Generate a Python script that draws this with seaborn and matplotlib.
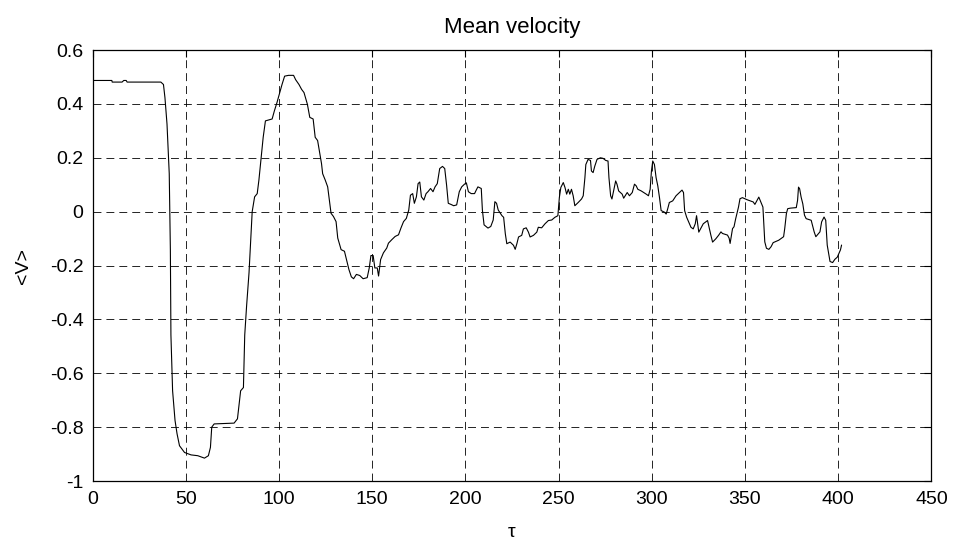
import matplotlib
matplotlib.use("Agg")
import matplotlib.pyplot as plt
import seaborn as sns
import pandas as pd
from matplotlib.ticker import FormatStrFormatter

# Data
tau = [0, 10.3, 10.5, 15.8, 16.7, 18.0, 18.5, 36.6, 38.0, 38.8, 39.9, 41.1, 41.7, 42.0, 42.9,
       44.2, 45.3, 46.6, 49.3, 52.8, 56.4, 60.0, 62.1, 63.2, 63.9, 65.2, 75.9, 77.7, 78.5,
       79.4, 80.9, 81.6, 82.6, 83.9, 84.8, 85.6, 86.9, 88.3, 89.2, 90.4, 91.5, 92.7, 96.3,
       97.5, 98.9, 100.4, 101.6, 103.0, 105.1, 107.8, 108.9, 110.7, 112.1, 113.4, 115.2,
       116.5, 118.3, 119.4, 120.7, 121.9, 122.8, 123.4, 124.8, 126.1, 127.0, 127.9, 129.2,
       130.6, 131.5, 133.3, 135.1, 136.4, 137.5, 138.8, 140.0, 141.5, 143.3, 145.1, 147.3,
       148.4, 149.3, 150.5, 151.4, 152.7, 153.4, 154.5, 156.0, 157.8, 158.7, 160.5, 162.3,
       164.1, 165.4, 166.8, 168.3, 169.6, 170.5, 171.7, 172.6, 173.7, 174.6, 175.5, 176.4,
       177.7, 178.9, 179.9, 181.3, 182.6, 183.7, 184.9, 186.2, 187.7, 188.9, 189.9, 190.8,
       192.2, 193.7, 195.3, 196.7, 198.0, 199.5, 200.5, 201.6, 203.1, 204.9, 205.8, 206.7,
       208.5, 209.1, 210.0, 212.1, 213.6, 214.9, 215.8, 216.7, 217.6, 219.6, 220.5, 221.4,
       222.2, 224.0, 225.8, 226.7, 227.6, 228.5, 230.2, 231.1, 232.6, 233.8, 234.7, 236.5,
       238.3, 239.1, 240.9, 242.7, 244.5, 246.3, 248.0, 249.6, 250.4, 251.2, 252.5, 253.4,
       254.3, 255.2, 256.0, 256.9, 257.8, 258.7, 260.5, 262.3, 263.2, 264.1, 264.6, 265.8,
       267.1, 267.6, 268.5, 269.4, 270.6, 272.4, 273.8, 275.3, 276.5, 277.0, 277.9, 278.6,
       279.5, 280.6, 281.3, 282.2, 284.1, 284.9, 286.8, 288.0, 289.5, 290.7, 291.6, 292.5,
       294.3, 297.0, 298.2, 299.1, 299.8, 300.5, 301.4, 302.3, 303.2, 304.1, 305.0, 306.8,
       307.7, 308.5, 309.4, 311.2, 313.0, 314.8, 316.2, 317.0, 317.6, 318.7, 321.0, 322.2,
       323.3, 324.0, 325.2, 327.6, 329.9, 331.7, 332.6, 334.3, 335.8, 337.1, 337.9, 340.6,
       341.5, 342.0, 343.3, 344.1, 345.0, 346.5, 347.3, 348.6, 351.2, 354.4, 355.3, 357.4,
       359.6, 360.1, 360.6, 361.5, 362.8, 364.0, 365.1, 368.1, 370.7, 371.3, 372.2, 372.9,
       374.3, 377.5, 378.2, 378.7, 379.3, 380.1, 381.0, 381.9, 382.8, 385.5, 387.1, 388.0,
       390.2, 391.1, 392.4, 393.3, 394.1, 395.0, 395.6, 397.0, 398.2, 399.5, 401.2, 401.8]

mean_v = [0.487, 0.487, 0.481, 0.481, 0.487, 0.487, 0.481, 0.481, 0.472, 0.423, 0.325, 0.141,
          -0.141, -0.458, -0.665, -0.775, -0.825, -0.869, -0.894, -0.903, -0.906, -0.915,
          -0.906, -0.875, -0.800, -0.788, -0.785, -0.769, -0.720, -0.665, -0.653, -0.458,
          -0.350, -0.227, -0.104, 0.000, 0.055, 0.067, 0.117, 0.202, 0.276, 0.337, 0.344,
          0.374, 0.405, 0.442, 0.472, 0.503, 0.506, 0.506, 0.490, 0.472, 0.454, 0.442, 0.399,
          0.350, 0.344, 0.276, 0.264, 0.215, 0.178, 0.141, 0.117, 0.092, 0.043, -0.006,
          -0.018, -0.037, -0.098, -0.141, -0.147, -0.184, -0.215, -0.242, -0.249, -0.233,
          -0.237, -0.249, -0.245, -0.209, -0.163, -0.163, -0.209, -0.209, -0.239, -0.178,
          -0.153, -0.135, -0.117, -0.104, -0.092, -0.086, -0.061, -0.037, -0.025, 0.006,
          0.061, 0.067, 0.031, 0.055, 0.104, 0.110, 0.055, 0.043, 0.067, 0.074, 0.086,
          0.074, 0.092, 0.104, 0.160, 0.168, 0.160, 0.098, 0.031, 0.027, 0.022, 0.025,
          0.074, 0.092, 0.102, 0.107, 0.074, 0.067, 0.067, 0.080, 0.092, 0.086, 0.006,
          -0.049, -0.061, -0.055, -0.031, 0.037, 0.031, 0.006, -0.015, -0.021, -0.082,
          -0.119, -0.113, -0.125, -0.140, -0.119, -0.094, -0.088, -0.064, -0.060, -0.076,
          -0.094, -0.088, -0.076, -0.058, -0.060, -0.045, -0.033, -0.031, -0.021, -0.015,
          0.053, 0.090, 0.108, 0.090, 0.065, 0.083, 0.065, 0.083, 0.059, 0.022, 0.034,
          0.047, 0.059, 0.126, 0.175, 0.194, 0.190, 0.151, 0.145, 0.169, 0.194, 0.200,
          0.198, 0.190, 0.188, 0.126, 0.059, 0.047, 0.077, 0.114, 0.102, 0.077, 0.065,
          0.050, 0.071, 0.059, 0.071, 0.102, 0.096, 0.083, 0.077, 0.065, 0.059, 0.083,
          0.151, 0.188, 0.175, 0.126, 0.096, 0.053, 0.004, -0.002, -0.009, 0.010, 0.034,
          0.040, 0.059, 0.071, 0.080, 0.071, 0.004, -0.021, -0.058, -0.064, -0.045,
          -0.015, -0.076, -0.045, -0.033, -0.088, -0.113, -0.101, -0.088, -0.075, -0.081,
          -0.087, -0.099, -0.118, -0.063, -0.056, -0.026, 0.017, 0.048, 0.052, 0.044,
          0.036, 0.027, 0.054, 0.017, -0.044, -0.112, -0.136, -0.140, -0.130, -0.115,
          -0.106, -0.093, -0.063, -0.007, 0.011, 0.013, 0.015, 0.042, 0.091, 0.085, 0.054,
          0.029, -0.013, -0.026, -0.032, -0.075, -0.093, -0.075, -0.038, -0.020, -0.032,
          -0.124, -0.161, -0.185, -0.189, -0.177, -0.169, -0.142, -0.124]

x_ticks = [0, 50, 100, 150, 200, 250, 300, 350, 400, 450]
y_ticks = [-1, -0.8, -0.6, -0.4, -0.2, 0, 0.2, 0.4, 0.6]

df = pd.DataFrame({"tau": tau, "v": mean_v})

sns.set_theme(style="white")
plt.rcParams["font.family"] = ["Liberation Sans", "DejaVu Sans"]
plt.rcParams["axes.unicode_minus"] = False
plt.rcParams["text.color"] = "black"

fig = plt.figure(figsize=(9.55, 5.42), dpi=100)
ax = fig.add_axes([0.097, 0.1125, 0.8783, 0.7952])

sns.lineplot(data=df, x="tau", y="v", sort=False, estimator=None,
             color="black", linewidth=0.8, ax=ax)

ax.set_xlim(0, 450)
ax.set_ylim(-1, 0.6)
ax.set_xticks(x_ticks)
ax.set_yticks(y_ticks)
ax.yaxis.set_major_formatter(FormatStrFormatter("%g"))
ax.xaxis.set_major_formatter(FormatStrFormatter("%g"))

ax.grid(True, color="black", linestyle=(0, (9.5, 6)), linewidth=0.6)
ax.tick_params(direction="in", top=True, right=True, length=5, width=0.8,
               labelsize=14, colors="black")
ax.tick_params(axis="x", pad=7.5)
ax.tick_params(axis="y", pad=6.5)
for s in ax.spines.values():
    s.set_color("black")
    s.set_linewidth(0.9)

ax.set_title("Mean velocity", fontsize=16, pad=12.5, color="black")
ax.set_xlabel("τ", fontsize=14, labelpad=11, color="black")
ax.set_ylabel("<V>", fontsize=14, labelpad=13, color="black")

fig.savefig("out.png", dpi=100)
